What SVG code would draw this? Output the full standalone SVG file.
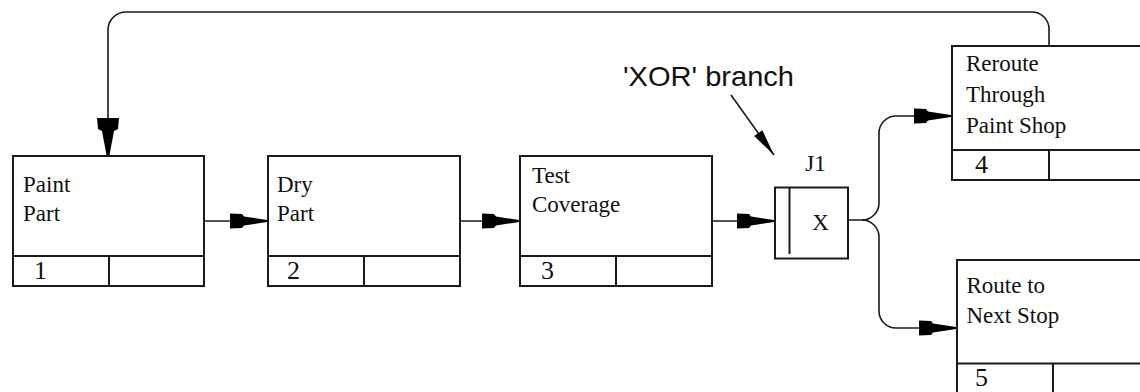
<svg xmlns="http://www.w3.org/2000/svg" width="1140" height="392" viewBox="0 0 1140 392">
  <style>
    .box { fill: #ffffff; stroke: #1a1a1a; stroke-width: 2; }
    .div { fill: none; stroke: #1a1a1a; stroke-width: 2; }
    .lbl { font-family: "Liberation Serif", "Times New Roman", serif; font-size: 23px; fill: #111111; }
    .num { font-family: "Liberation Serif", "Times New Roman", serif; font-size: 26px; fill: #111111; }
    .jct { font-family: "Liberation Serif", "Times New Roman", serif; font-size: 23px; fill: #111111; }
    .conn { fill: none; stroke: #1a1a1a; stroke-width: 1.6; }
    .note { font-family: "Liberation Sans", Arial, sans-serif; font-size: 28px; fill: #111111; }
  </style>
  <defs>
    <!-- stepped IDEF3-style arrowhead, tip at origin -->
    <marker id="head" markerUnits="userSpaceOnUse" viewBox="-38 -9 39 18" refX="0" refY="0" markerWidth="39" markerHeight="18" orient="auto">
      <path d="M -37 -7.5 L -25 -7 L -23 -4.5 L 0 -1 L 0 1 L -23 4.5 L -25 7 L -37 7.5 Z" fill="#000000"/>
    </marker>
    <marker id="headWide" markerUnits="userSpaceOnUse" viewBox="-38 -12 39 24" refX="0" refY="0" markerWidth="39" markerHeight="24" orient="auto">
      <path d="M -37 -11 L -26 -10 L -24 -6 L 0 -1.5 L 0 1.5 L -24 6 L -26 10 L -37 11 Z" fill="#000000"/>
    </marker>
    <marker id="pointer" markerUnits="userSpaceOnUse" viewBox="-28 -6 29 12" refX="0" refY="0" markerWidth="29" markerHeight="12" orient="auto">
      <path d="M -27 -5 L 0 0 L -27 5 Z" fill="#000000"/>
    </marker>
  </defs>

  <!-- connectors -->
  <g id="connectors">
    <path class="conn" d="M 204 221 H 267" marker-end="url(#head)"/>
    <path class="conn" d="M 460 221 H 519" marker-end="url(#head)"/>
    <path class="conn" d="M 712 221 H 774" marker-end="url(#head)"/>
    <!-- XOR fan-out -->
    <path class="conn" d="M 848 220 H 862 A 17 17 0 0 0 879 203 V 133 A 17 17 0 0 1 896 116 H 951" marker-end="url(#head)"/>
    <path class="conn" d="M 862 220 A 17 17 0 0 1 879 237 V 311 A 17 17 0 0 0 896 328 H 956" marker-end="url(#head)"/>
    <!-- loop back to the paint step -->
    <path class="conn" d="M 1049 46 V 29 A 17 17 0 0 0 1032 12 H 126 A 18 18 0 0 0 108 30 V 155" marker-end="url(#headWide)"/>
  </g>

  <!-- annotation -->
  <g id="note">
    <text class="note" x="623" y="86" textLength="171" lengthAdjust="spacingAndGlyphs">'XOR' branch</text>
    <path class="conn" d="M 731 95 L 774 155" marker-end="url(#pointer)"/>
  </g>

  <g id="node1">
    <rect class="box" x="13" y="156" width="191" height="130"/>
    <path class="div" d="M 13 256 H 204 M 109 256 V 286"/>
    <text class="lbl" x="23" y="191.5">Paint</text>
    <text class="lbl" x="23" y="221">Part</text>
    <text class="num" x="34" y="279">1</text>
  </g>

  <g id="node2">
    <rect class="box" x="268" y="156" width="192" height="130"/>
    <path class="div" d="M 268 256 H 460 M 364 256 V 286"/>
    <text class="lbl" x="277" y="191.5">Dry</text>
    <text class="lbl" x="277" y="221">Part</text>
    <text class="num" x="287" y="279">2</text>
  </g>

  <g id="node3">
    <rect class="box" x="520" y="156" width="192" height="130"/>
    <path class="div" d="M 520 256 H 712 M 616 256 V 286"/>
    <text class="lbl" x="532" y="182.5">Test</text>
    <text class="lbl" x="532" y="211.5">Coverage</text>
    <text class="num" x="541" y="279">3</text>
  </g>

  <g id="junctionJ1">
    <text class="jct" x="815.5" y="171" text-anchor="middle">J1</text>
    <rect class="box" x="775" y="187.5" width="73" height="71"/>
    <path class="div" d="M 789.5 188 V 254"/>
    <text class="jct" x="820.5" y="229.5" text-anchor="middle">X</text>
  </g>

  <g id="node4">
    <rect class="box" x="952" y="46" width="200" height="134"/>
    <path class="div" d="M 952 150 H 1152 M 1049 150 V 180"/>
    <text class="lbl" x="966" y="71">Reroute</text>
    <text class="lbl" x="966" y="101.5">Through</text>
    <text class="lbl" x="966" y="132.5">Paint Shop</text>
    <text class="num" x="975" y="173">4</text>
  </g>

  <g id="node5">
    <rect class="box" x="957" y="260" width="200" height="140"/>
    <path class="div" d="M 957 363.5 H 1157 M 1053 363.5 V 400"/>
    <text class="lbl" x="966.5" y="292.5">Route to</text>
    <text class="lbl" x="966.5" y="323">Next Stop</text>
    <text class="num" x="975" y="386">5</text>
  </g>
</svg>
